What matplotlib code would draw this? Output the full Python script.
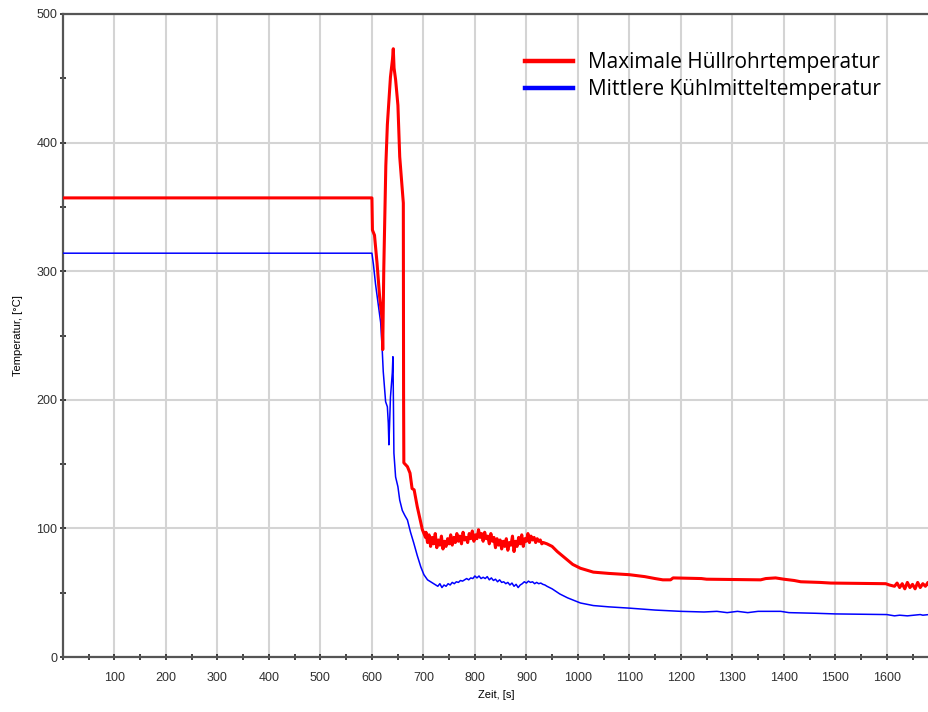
import matplotlib
matplotlib.use("Agg")
import matplotlib.pyplot as plt
from matplotlib.ticker import MultipleLocator
import numpy as np

# Maximale Hüllrohrtemperatur [°C]
t_red_a = [0, 600, 601, 605, 610, 615, 620, 621, 623, 627, 630, 636, 640, 641.5, 643,
           646, 650.5, 654, 657.7, 661, 661.5, 662, 669, 674, 678, 682, 688, 698, 704]
v_red_a = [357, 357, 332, 328, 306, 280, 262, 239, 301, 382, 414, 451, 465, 473, 458,
           449, 429, 389, 370, 353, 204, 151, 148, 143, 131, 130, 117, 99, 93]
t_red_b = list(np.arange(705, 934, 3))
v_red_b = [97, 89, 95, 86, 93, 88, 96, 85, 91, 87,
           94, 84, 90, 86, 92, 88, 95, 87, 93, 89,
           96, 90, 94, 88, 97, 91, 93, 89, 96, 92,
           98, 90, 95, 92, 99, 93, 96, 90, 97, 92,
           94, 88, 96, 90, 93, 85, 92, 87, 91, 84,
           90, 86, 92, 83, 89, 87, 94, 82, 90, 86,
           93, 88, 95, 86, 92, 90, 96, 89, 94, 91,
           93, 89, 92, 90, 91, 88, 89]
t_red_c = [940, 950, 960, 975, 990, 1005, 1030, 1060, 1100, 1130, 1150, 1165, 1180, 1185,
           1240, 1250, 1355, 1365, 1384, 1400, 1420, 1433, 1470, 1491, 1598, 1605, 1615,
           1620, 1625, 1630, 1635, 1640, 1645, 1650, 1655, 1660, 1665, 1670, 1675, 1680, 1682]
v_red_c = [88, 86, 82, 77, 72, 69, 66, 65, 64, 62.5, 61, 60, 60, 61.5,
           61, 60.5, 60, 61, 61.5, 60.5, 59.5, 58.5, 58, 57.5, 57, 56, 55,
           57.5, 54, 57, 53, 58, 54, 56.5, 53, 58, 54, 57, 55, 58, 56]

# Mittlere Kühlmitteltemperatur [°C]
t_blue_a = [0, 600, 603, 607, 612, 617, 620, 622, 626.6, 630, 631.8, 633, 636, 639.6, 640.8,
            641.5, 642.7, 646, 650.5, 654, 659, 664, 669, 675, 681, 688, 695, 701, 708, 716]
v_blue_a = [314, 314, 305, 290, 275, 260, 239, 222, 198.5, 194.6, 182, 165, 202, 221, 233.5,
            209, 158.6, 140, 132.4, 122, 114, 110, 106.5, 97, 89, 79, 70, 64, 60, 58]
t_blue_b = list(np.arange(724, 941, 4))
v_blue_b = [56, 55, 57, 54, 56, 55, 57, 56, 58, 57,
            58.5, 58, 59.5, 59, 60, 61, 60, 61.5, 61, 63,
            61.5, 63, 61, 62, 61, 62.5, 60, 61.5, 59.5, 60.5,
            58.5, 60, 58, 58.5, 57, 58, 56, 57.5, 55, 56.5,
            54, 56, 57, 58.5, 57.5, 59, 58, 58.5, 57, 58,
            57, 57.5, 56.5, 56, 55]
t_blue_c = [950, 965, 980, 1005, 1030, 1060, 1100, 1150, 1200, 1245, 1270, 1290, 1310,
            1330, 1350, 1394, 1410, 1462, 1500, 1600, 1615, 1625, 1640, 1665, 1670, 1682]
v_blue_c = [53, 49, 46, 42, 40, 39, 38, 36.5, 35.5, 35, 35.5, 34.5, 35.5,
            34.5, 35.5, 35.5, 34.5, 34, 33.5, 33, 32, 32.5, 32, 33, 32.5, 33]

t_red = t_red_a + t_red_b + t_red_c
v_red = v_red_a + v_red_b + v_red_c
t_blue = t_blue_a + t_blue_b + t_blue_c
v_blue = v_blue_a + v_blue_b + v_blue_c

fig = plt.figure(figsize=(9.29, 7.12), dpi=100)
ax = fig.add_axes([63 / 929, 55 / 712, 866 / 929, 643 / 712])

ax.plot(t_blue, v_blue, color="#0000ff", lw=1.1, label="Mittlere Kühlmitteltemperatur", zorder=3)
ax.plot(t_red, v_red, color="#ff0000", lw=2.2, label="Maximale Hüllrohrtemperatur", zorder=4)

ax.set_xlim(0, 1682)
ax.set_ylim(0, 500)
ax.xaxis.set_major_locator(MultipleLocator(100))
ax.xaxis.set_minor_locator(MultipleLocator(50))
ax.yaxis.set_major_locator(MultipleLocator(100))
ax.yaxis.set_minor_locator(MultipleLocator(50))
ax.grid(True, which="major", color="#d4d4d4", lw=1.5)
ax.set_axisbelow(True)

ax.set_xticks(range(100, 1700, 100))
ax.tick_params(which="both", direction="inout", length=4, width=1.2, color="#202020",
               labelsize=9, labelcolor="#303030")
ax.tick_params(axis="x", pad=9)
ax.tick_params(axis="y", pad=2)
for lbl in ax.get_xticklabels() + ax.get_yticklabels():
    lbl.set_family("Liberation Sans")

for s in ["left", "bottom", "top"]:
    ax.spines[s].set_color("#555555")
    ax.spines[s].set_linewidth(1.6)
ax.spines["right"].set_visible(False)

ax.set_xlabel("Zeit, [s]", fontsize=8, family="Liberation Sans", labelpad=4)
ax.set_ylabel("Temperatur, [°C]", fontsize=8, family="Liberation Sans", labelpad=10)

h, l = ax.get_legend_handles_labels()
leg = fig.legend(h[::-1], l[::-1], loc="center left", bbox_to_anchor=(515 / 929, 1 - 76 / 712),
                 frameon=False, borderpad=0, handlelength=2.3, handletextpad=0.7,
                 labelspacing=0.3, prop={"family": "Open Sans", "size": 15})
for line in leg.get_lines():
    line.set_linewidth(3.2)

fig.savefig("out.png", dpi=100)
